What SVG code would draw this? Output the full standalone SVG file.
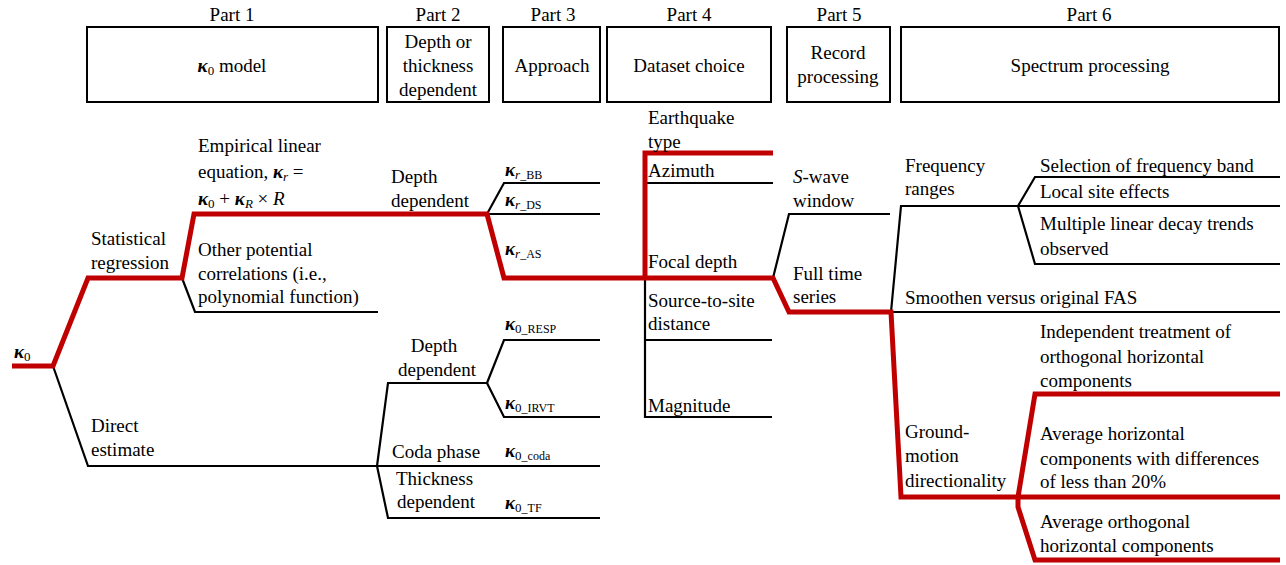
<svg xmlns="http://www.w3.org/2000/svg" width="1286" height="565" viewBox="0 0 1286 565">
<style>
.t{font-family:"Liberation Serif","Times New Roman",serif;font-size:19px;fill:#000}
.c{text-anchor:middle}
.k{font-weight:bold;font-style:italic}
.i{font-style:italic}
.s{font-size:13px}
.ss{font-size:12px}
.box{fill:none;stroke:#000;stroke-width:2}
.bl{fill:none;stroke:#000;stroke-width:2.2;stroke-linejoin:miter}
.rd{fill:none;stroke:#c00000;stroke-width:5;stroke-linejoin:miter}
</style>
<rect width="1286" height="565" fill="#fff"/>
<g id="headers">
<g id="part1"><text class="t c" x="232" y="21">Part 1</text><rect class="box" x="87" y="27" width="291" height="75"/><text class="t c" x="232" y="72"><tspan class="k">κ</tspan><tspan class="s" dy="3">0</tspan><tspan dy="-3"> model</tspan></text></g>
<g id="part2"><text class="t c" x="438" y="21">Part 2</text><rect class="box" x="387" y="27" width="102" height="75"/><text class="t c" x="438" y="48">Depth or</text><text class="t c" x="438" y="72">thickness</text><text class="t c" x="438" y="96">dependent</text></g>
<g id="part3"><text class="t c" x="553" y="21">Part 3</text><rect class="box" x="503" y="27" width="97" height="75"/><text class="t c" x="552" y="72">Approach</text></g>
<g id="part4"><text class="t c" x="689" y="21">Part 4</text><rect class="box" x="607" y="27" width="164" height="75"/><text class="t c" x="689" y="72">Dataset choice</text></g>
<g id="part5"><text class="t c" x="839" y="21">Part 5</text><rect class="box" x="787" y="27" width="103" height="75"/><text class="t c" x="838" y="59">Record</text><text class="t c" x="838" y="83">processing</text></g>
<g id="part6"><text class="t c" x="1089" y="21">Part 6</text><rect class="box" x="901" y="27" width="378" height="75"/><text class="t c" x="1090" y="72">Spectrum processing</text></g>
</g>
<g id="connectors">
<polyline class="bl" points="53,366 88,466 600,466"/>
<polyline class="bl" points="182,278 195,312 378,312"/>
<polyline class="bl" points="377,466 388,383 487,383"/>
<polyline class="bl" points="487,383 504,340 600,340"/>
<polyline class="bl" points="487,383 504,417 600,417"/>
<polyline class="bl" points="377,466 388,518 600,518"/>
<polyline class="bl" points="487,214 504,183 600,183"/>
<polyline class="bl" points="487,214 600,214"/>
<polyline class="bl" points="645,183 773,183"/>
<polyline class="bl" points="645,278 645,417 772,417"/>
<polyline class="bl" points="645,340 772,340"/>
<polyline class="bl" points="773,278 789,214 890,214"/>
<polyline class="bl" points="891,312 1280,312"/>
<polyline class="bl" points="891,312 901,206 1018,206"/>
<polyline class="bl" points="1018,206 1035,177 1280,177"/>
<polyline class="bl" points="1018,206 1280,206"/>
<polyline class="bl" points="1018,206 1035,264 1280,264"/>
<polyline class="rd" points="12,366 53,366 88,278 182,278 194,214 487,214 504,278 773,278 789,312 891,312 901,497 1018,497"/>
<polyline class="rd" points="645,278 645,153 773,153"/>
<polyline class="rd" points="1018,497 1035,394 1280,394"/>
<polyline class="rd" points="1018,497 1280,497"/>
<polyline class="rd" points="1018,497 1018,507 1035,560 1280,560"/>
</g>
<g id="n-k0"><text class="t" x="14" y="358"><tspan class="k">κ</tspan><tspan class="s" dy="3">0</tspan></text></g>
<g id="n-statreg"><text class="t" x="91" y="245">Statistical</text><text class="t" x="91" y="269">regression</text></g>
<g id="n-direct"><text class="t" x="91" y="432">Direct</text><text class="t" x="91" y="456">estimate</text></g>
<g id="n-empirical"><text class="t" x="198" y="152">Empirical linear</text><text class="t" x="198" y="178">equation, <tspan class="k">κ</tspan><tspan class="s i" dy="3">r</tspan><tspan dy="-3"> =</tspan></text><text class="t" x="198" y="205"><tspan class="k">κ</tspan><tspan class="s" dy="3">0</tspan><tspan dy="-3"> + </tspan><tspan class="k">κ</tspan><tspan class="s i" dy="3">R</tspan><tspan dy="-3"> × </tspan><tspan class="i">R</tspan></text></g>
<g id="n-other"><text class="t" x="198" y="256">Other potential</text><text class="t" x="198" y="280">correlations (i.e.,</text><text class="t" x="198" y="303">polynomial function)</text></g>
<g id="n-depth1"><text class="t" x="391" y="183">Depth</text><text class="t" x="391" y="207">dependent</text></g>
<g id="n-depth2"><text class="t c" x="434" y="352">Depth</text><text class="t c" x="437" y="376">dependent</text></g>
<g id="n-coda"><text class="t" x="392" y="458">Coda phase</text></g>
<g id="n-thick"><text class="t" x="396" y="485">Thickness</text><text class="t" x="397" y="508">dependent</text></g>
<g id="n-krbb"><text class="t" x="505" y="176"><tspan class="k">κ</tspan><tspan class="s i" dy="3">r</tspan><tspan class="ss">_BB</tspan></text></g>
<g id="n-krds"><text class="t" x="505" y="206"><tspan class="k">κ</tspan><tspan class="s i" dy="3">r</tspan><tspan class="ss">_DS</tspan></text></g>
<g id="n-kras"><text class="t" x="505" y="255"><tspan class="k">κ</tspan><tspan class="s i" dy="3">r</tspan><tspan class="ss">_AS</tspan></text></g>
<g id="n-k0resp"><text class="t" x="505" y="330"><tspan class="k">κ</tspan><tspan class="s" dy="3">0</tspan><tspan class="ss">_RESP</tspan></text></g>
<g id="n-k0irvt"><text class="t" x="505" y="409"><tspan class="k">κ</tspan><tspan class="s" dy="3">0</tspan><tspan class="ss">_IRVT</tspan></text></g>
<g id="n-k0coda"><text class="t" x="505" y="457"><tspan class="k">κ</tspan><tspan class="s" dy="3">0</tspan><tspan class="ss">_coda</tspan></text></g>
<g id="n-k0tf"><text class="t" x="505" y="509"><tspan class="k">κ</tspan><tspan class="s" dy="3">0</tspan><tspan class="ss">_TF</tspan></text></g>
<g id="n-eqtype"><text class="t" x="648" y="124">Earthquake</text><text class="t" x="648" y="148">type</text></g>
<g id="n-azimuth"><text class="t" x="648" y="177">Azimuth</text></g>
<g id="n-focal"><text class="t" x="648" y="268">Focal depth</text></g>
<g id="n-source"><text class="t" x="648" y="307">Source-to-site</text><text class="t" x="648" y="330">distance</text></g>
<g id="n-magnitude"><text class="t" x="648" y="412">Magnitude</text></g>
<g id="n-swave"><text class="t" x="793" y="183"><tspan class="i">S</tspan>-wave</text><text class="t" x="793" y="207">window</text></g>
<g id="n-fulltime"><text class="t" x="793" y="280">Full time</text><text class="t" x="793" y="303">series</text></g>
<g id="n-freq"><text class="t" x="905" y="172">Frequency</text><text class="t" x="905" y="195">ranges</text></g>
<g id="n-selection"><text class="t" x="1040" y="172">Selection of frequency band</text></g>
<g id="n-local"><text class="t" x="1040" y="198">Local site effects</text></g>
<g id="n-multiple"><text class="t" x="1040" y="230">Multiple linear decay trends</text><text class="t" x="1040" y="255">observed</text></g>
<g id="n-smoothen"><text class="t" x="905" y="304">Smoothen versus original FAS</text></g>
<g id="n-ground"><text class="t" x="905" y="438">Ground-</text><text class="t" x="905" y="462">motion</text><text class="t" x="905" y="487">directionality</text></g>
<g id="n-indep"><text class="t" x="1040" y="338">Independent treatment of</text><text class="t" x="1040" y="363">orthogonal horizontal</text><text class="t" x="1040" y="387">components</text></g>
<g id="n-avg20"><text class="t" x="1040" y="440">Average horizontal</text><text class="t" x="1040" y="465">components with differences</text><text class="t" x="1040" y="488">of less than 20%</text></g>
<g id="n-avgorth"><text class="t" x="1040" y="528">Average orthogonal</text><text class="t" x="1040" y="552">horizontal components</text></g>
</svg>
